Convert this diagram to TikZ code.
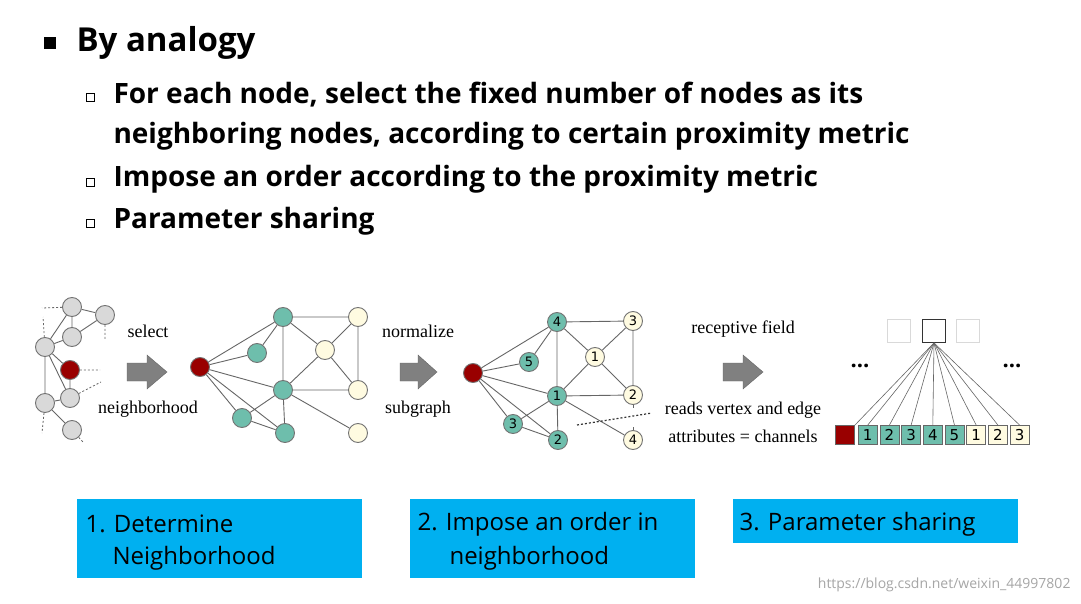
\documentclass[tikz,border=0pt]{standalone}
\usepackage{fontspec}
\setmainfont{Open Sans}
\newfontfamily\serif{Liberation Serif}
\newfontfamily\dv{DejaVu Sans}
\definecolor{tealc}{RGB}{110,190,172}
\definecolor{creamc}{RGB}{255,251,225}
\definecolor{boxc}{RGB}{0,176,240}
\begin{document}
\begin{tikzpicture}[x=1pt,y=-1pt,
 nd/.style={circle,draw=black!55,line width=0.9pt,minimum size=19pt,inner sep=0pt,font=\dv\fontsize{13}{13}\selectfont},
 gr/.style={nd,fill=black!15},
 rd/.style={nd,fill=red!60!black},
 tl/.style={nd,fill=tealc},
 cr/.style={nd,fill=creamc},
 ed/.style={draw=black!60,line width=0.9pt},
 dt/.style={draw=black!60,dashed,dash pattern=on 2pt off 2pt,line width=0.8pt},
 lb/.style={font=\serif\fontsize{18}{18}\selectfont},
 bigarr/.style={fill=black!50,draw=black!60},
 box/.style={fill=boxc,draw=none},
 sq/.style={draw=black!60,line width=0.8pt,minimum size=19pt,inner sep=0pt,font=\dv\fontsize{15}{15}\selectfont},
 bt/.style={anchor=west,font=\fontsize{28}{28}\selectfont\bfseries}]
\useasboundingbox (0,0) rectangle (1081,604);
\fill[white] (0,0) rectangle (1081,604);
% title
\fill (44,37) rectangle (56,49);
\node[anchor=west,font=\fontsize{33}{33}\selectfont\bfseries] (title) at (73,43) {By analogy};
\foreach \y in {97,182,223}{\draw[line width=0.9pt] (86,\y-4) rectangle (94,\y+4);}
\node[bt] (b1) at (110,95) {For each node, select the fixed number of nodes as its};
\node[bt] (b1b) at (110,136) {neighboring nodes, according to certain proximity metric};
\node[bt] (b2) at (110,179) {Impose an order according to the proximity metric};
\node[bt] (b3) at (110,221) {Parameter sharing};
% graph 1
\node[gr] (g1) at (72,307) {};
\node[gr] (g2) at (105,315) {};
\node[gr] (g3) at (72,337) {};
\node[gr] (g4) at (45,347) {};
\node[rd] (r1) at (70,370) {};
\node[gr] (g5) at (70,398) {};
\node[gr] (g6) at (45,403) {};
\node[gr] (g7) at (72,430) {};
\draw[ed] (g1)--(g2) (g1)--(g3) (g2)--(g3) (g1)--(g4) (g3)--(g4) (g4)--(r1) (g4)--(g5) (g4)--(g6) (r1)--(g5) (g6)--(g5) (g6)--(g7);
\coordinate (d1) at (42,308); \coordinate (d2) at (43,317); \coordinate (d3) at (105,340);
\coordinate (d4) at (100,370); \coordinate (d5) at (101,382); \coordinate (d6) at (42,433); \coordinate (d7) at (83,442);
\draw[dt] (g1)--(d1) (g4)--(d2) (g2)--(d3) (r1)--(d4) (g5)--(d5) (g6)--(d6) (g7)--(d7);
\draw[bigarr] (127,363)--(147,363)--(147,355)--(167,372)--(147,389)--(147,381)--(127,381)--cycle;
\node[lb] (s1) at (148,331) {select};
\node[lb] (s2) at (148,409) {neighborhood};
% graph 2
\node[rd] (r2) at (200,367) {};
\node[tl] (t1) at (283,317) {};
\node[tl] (t2) at (257,353) {};
\node[tl] (t3) at (283,390) {};
\node[tl] (t4) at (242,418) {};
\node[tl] (t5) at (285,433) {};
\node[cr] (c1) at (358,317) {};
\node[cr] (c2) at (325,350) {};
\node[cr] (c3) at (358,390) {};
\node[cr] (c4) at (358,433) {};
\draw[ed] (r2)--(t1) (r2)--(t2) (r2)--(t3) (r2)--(t4) (r2)--(t5) (t2)--(t1) (t1)--(t3) (t1)--(c1) (t1)--(c2) (c2)--(c1) (c2)--(t3) (c2)--(c3) (c1)--(c3) (t3)--(c3) (t3)--(c4) (t3)--(t4) (t3)--(t5) (t4)--(t5);
\draw[bigarr] (400,363)--(418,363)--(418,355)--(437,372)--(418,389)--(418,381)--(400,381)--cycle;
\node[lb] (n1) at (418,331) {normalize};
\node[lb] (n2) at (418,409) {subgraph};
% graph 3
\node[rd] (r3) at (473,373) {};
\node[tl] (u4) at (557,322) {4};
\node[tl] (u5) at (529,362) {5};
\node[tl] (u1) at (557,396) {1};
\node[tl] (u3) at (513,424) {3};
\node[tl] (u2) at (558,440) {2};
\node[cr] (v3) at (633,321) {3};
\node[cr] (v1) at (595,357) {1};
\node[cr] (v2) at (633,395) {2};
\node[cr] (v4) at (633,440) {4};
\draw[ed] (r3)--(u4) (r3)--(u5) (r3)--(u1) (r3)--(u3) (r3)--(u2) (u5)--(u4) (u4)--(u1) (u4)--(v3) (u4)--(v1) (v1)--(v3) (v1)--(u1) (v1)--(v2) (v3)--(v2) (u1)--(v2) (u1)--(v4) (u1)--(u3) (u1)--(u2) (u3)--(u2);
\draw[ed] (v2)--++(0,13) (v4)--++(0,-13);
\coordinate (e1) at (577,425); \coordinate (e2) at (652,413);
\draw[dt,draw=black!80,line width=1.2pt] (e1)--(e2);
% right part
\node[lb] (rf) at (743,329) {receptive field};
\draw[bigarr] (723,363)--(743,363)--(743,355)--(763,372)--(743,389)--(743,381)--(723,381)--cycle;
\node[lb] (ra) at (743,410) {reads vertex and edge};
\node[lb] (rb) at (743,436) {attributes = channels};
\node[sq,draw=black!15,minimum size=23pt] (q1) at (899,331) {};
\node[sq,draw=black!80,minimum size=23pt] (q2) at (934,331) {};
\node[sq,draw=black!15,minimum size=23pt] (q3) at (968,331) {};
\node[font=\bfseries\fontsize{22}{22}\selectfont] (dl) at (860,366) {...};
\node[font=\bfseries\fontsize{22}{22}\selectfont] (dr) at (1012,366) {...};
\node[sq,fill=red!60!black] (k0) at (845,435) {};
\foreach \i/\l in {1/1,2/2,3/3,4/4,5/5}{\node[sq,fill=tealc] (k\i) at (846+21.7*\i,435) {\l};}
\foreach \i/\l in {6/1,7/2,8/3}{\node[sq,fill=creamc] (k\i) at (846+21.7*\i,435) {\l};}
\draw[ed,line width=0.6pt] (q2.south)--(k0.north east);
\foreach \i in {1,...,8}{\draw[ed,line width=0.6pt] (q2.south)--(k\i.north);}
% boxes
\fill[box] (77,499) rectangle (362,578);
\fill[box] (410,499) rectangle (695,578);
\fill[box] (733,499) rectangle (1018,543);
\tikzset{bx/.style={anchor=west,font=\fontsize{24}{24}\selectfont}}
\node[bx] (x1) at (82,524) {1. Determine};
\node[bx] (x2) at (109,558) {Neighborhood};
\node[bx] (x3) at (414,524) {2. Impose an order in};
\node[bx] (x4) at (446,558) {neighborhood};
\node[bx] (x5) at (736,524) {3. Parameter sharing};
\node[anchor=east,text=black!35,font=\fontsize{14}{14}\selectfont] (wm) at (1074,585) {https://blog.csdn.net/weixin\_44997802};
\end{tikzpicture}
\end{document}
